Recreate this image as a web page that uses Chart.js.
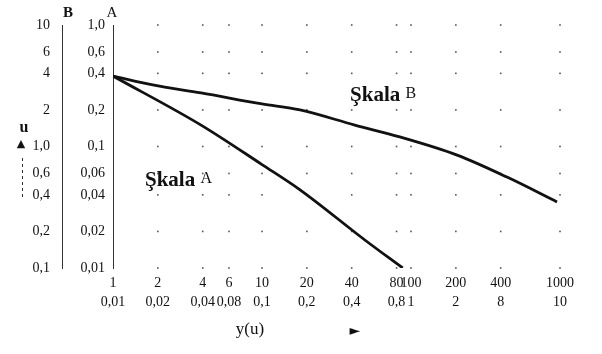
<!DOCTYPE html>
<html lang="tr">
<head>
    <meta charset="UTF-8">
    <title>y(u)</title>
    <style>
        html, body {
            margin: 0;
            padding: 0;
            background: #fff;
        }
        #wrap {
            width: 602px;
            height: 354px;
        }
    </style>
</head>
<body>
    <div id="wrap"><canvas id="chart"></canvas></div>
    <script src="https://cdn.jsdelivr.net/npm/chart.js"></script>
    <script>
        // x axis: upper row of ticks and the second reading under it
        const xTicks = [1, 2, 4, 6, 10, 20, 40, 80, 100, 200, 400, 1000];
        const xLabelsTop = ['1', '2', '4', '6', '10', '20', '40', '80', '100', '200', '400', '1000'];
        const xLabelsBottom = ['0,01', '0,02', '0,04', '0,08', '0,1', '0,2', '0,4', '0,8', '1', '2', '8', '10'];

        // u axis, scale A (inner) and scale B (outer)
        const aTicks = [0.01, 0.02, 0.04, 0.06, 0.1, 0.2, 0.4, 0.6, 1];
        const aLabels = ['0,01', '0,02', '0,04', '0,06', '0,1', '0,2', '0,4', '0,6', '1,0'];
        const bTicks = [0.1, 0.2, 0.4, 0.6, 1, 2, 4, 6, 10];
        const bLabels = ['0,1', '0,2', '0,4', '0,6', '1,0', '2', '4', '6', '10'];

        // Skala A curve (read on scale A)
        const xA = [1, 3.9, 10, 18, 49, 88];
        const uA = [0.38, 0.15, 0.071, 0.044, 0.017, 0.01];

        // Skala B curve (read on scale B)
        const xB = [1, 1.85, 3.9, 10, 18, 42, 84, 204, 441, 955];
        const uB = [3.8, 3.21, 2.76, 2.24, 2.0, 1.5, 1.2, 0.85, 0.56, 0.35];

        const serif = "'Liberation Serif', 'Times New Roman', serif";
        const tickFont = { family: serif, size: 14 };
        const ink = '#111';

        const fixTicks = values => scale => {
            scale.ticks = values.map(v => ({ value: v }));
        };
        const labelFrom = labels => (value, i) => labels[i];

        function logAxis(extra) {
            return Object.assign({
                type: 'logarithmic',
                grid: { display: false, drawTicks: false },
                border: { display: false },
                ticks: { autoSkip: false, maxRotation: 0, color: ink, font: tickFont }
            }, extra);
        }

        // sparse dots where the tick lines cross
        const dotGrid = {
            id: 'dotGrid',
            beforeDatasetsDraw(chart) {
                const { ctx, scales } = chart;
                ctx.save();
                ctx.fillStyle = '#555';
                xTicks.slice(1).forEach(xv => {
                    const px = scales.x.getPixelForValue(xv);
                    aTicks.forEach(av => {
                        const py = scales.yA.getPixelForValue(av);
                        ctx.fillRect(px - 0.8, py - 0.8, 1.6, 1.6);
                    });
                });
                ctx.restore();
            }
        };

        // axis letters, arrows and curve names
        const annotations = {
            id: 'annotations',
            afterDraw(chart) {
                const { ctx, scales } = chart;
                const xs = scales.x, ya = scales.yA, yb = scales.yB;
                ctx.save();
                ctx.fillStyle = ink;
                ctx.strokeStyle = '#333';
                ctx.textBaseline = 'middle';
                ctx.textAlign = 'center';

                ctx.font = 'bold 15px ' + serif;
                ctx.fillText('B', yb.right + 6, 13);
                ctx.font = '15px ' + serif;
                ctx.fillText('A', ya.right - 1, 13);

                ctx.font = 'bold 16px ' + serif;
                ctx.fillText('u', 24, 128);
                ctx.font = "11px 'DejaVu Sans'";
                ctx.fillText('\u25B2', 21, 144);
                ctx.setLineDash([3, 3]);
                ctx.lineWidth = 1;
                ctx.beginPath();
                ctx.moveTo(22.5, 158);
                ctx.lineTo(22.5, 200);
                ctx.stroke();
                ctx.setLineDash([]);

                ctx.font = '17px ' + serif;
                ctx.fillText('y(u)', 250, 330);
                ctx.font = "14px 'DejaVu Sans'";
                ctx.fillText('\u25BA', 355, 331);

                const curveName = (name, letter, xv, av) => {
                    const px = xs.getPixelForValue(xv);
                    const py = ya.getPixelForValue(av);
                    ctx.textAlign = 'left';
                    ctx.textBaseline = 'alphabetic';
                    ctx.font = 'bold 21px ' + serif;
                    ctx.fillText(name, px, py);
                    const w = ctx.measureText(name + ' ').width;
                    ctx.font = '16px ' + serif;
                    ctx.fillText(letter, px + w, py - 3);
                };
                curveName('\u015Ekala', 'B', 39, 0.237);
                curveName('\u015Ekala', 'A', 1.64, 0.047);
                ctx.restore();
            }
        };

        new Chart(document.getElementById('chart'), {
            type: 'line',
            data: {
                datasets: [{
                    label: 'Skala A',
                    data: xA.map((x, i) => ({ x: x, y: uA[i] })),
                    xAxisID: 'x',
                    yAxisID: 'yA',
                    borderColor: ink,
                    borderWidth: 2.8,
                    pointRadius: 0,
                    cubicInterpolationMode: 'monotone'
                }, {
                    label: 'Skala B',
                    data: xB.map((x, i) => ({ x: x, y: uB[i] })),
                    xAxisID: 'x',
                    yAxisID: 'yB',
                    borderColor: ink,
                    borderWidth: 2.8,
                    pointRadius: 0,
                    cubicInterpolationMode: 'monotone'
                }]
            },
            options: {
                responsive: true,
                maintainAspectRatio: false,
                animation: false,
                layout: { padding: { left: 10, right: 42, top: 25, bottom: 42 } },
                plugins: {
                    legend: { display: false },
                    tooltip: { enabled: false }
                },
                scales: {
                    x: logAxis({
                        position: 'bottom', min: 1, max: 1000, weight: 0,
                        afterBuildTicks: fixTicks(xTicks),
                        afterFit: s => { s.height = 24; },
                        ticks: { autoSkip: false, maxRotation: 0, padding: 7, color: ink, font: tickFont, callback: labelFrom(xLabelsTop) }
                    }),
                    x2: logAxis({
                        position: 'bottom', min: 1, max: 1000, weight: 1,
                        afterBuildTicks: fixTicks(xTicks),
                        afterFit: s => { s.height = 20; },
                        ticks: { autoSkip: false, maxRotation: 0, padding: 2, color: ink, font: tickFont, callback: labelFrom(xLabelsBottom) }
                    }),
                    yA: logAxis({
                        position: 'left', min: 0.01, max: 1, weight: 0,
                        afterBuildTicks: fixTicks(aTicks),
                        afterFit: s => { s.width = 51; },
                        border: { display: true, color: '#333', width: 1, dash: [3, 3] },
                        ticks: { autoSkip: false, padding: 8, color: ink, font: tickFont, callback: labelFrom(aLabels) }
                    }),
                    yB: logAxis({
                        position: 'left', min: 0.1, max: 10, weight: 1,
                        afterBuildTicks: fixTicks(bTicks),
                        afterFit: s => { s.width = 52; },
                        border: { display: true, color: '#333', width: 1, dash: [3, 3] },
                        ticks: { autoSkip: false, padding: 12, color: ink, font: tickFont, callback: labelFrom(bLabels) }
                    })
                }
            },
            plugins: [dotGrid, annotations]
        });
    </script>
</body>
</html>
